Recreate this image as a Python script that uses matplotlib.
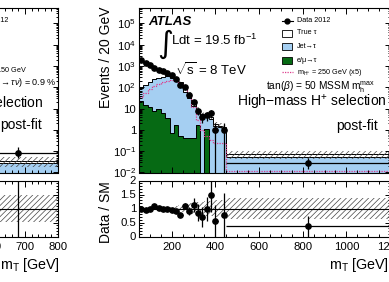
import numpy as np
import matplotlib
matplotlib.use("Agg")
import matplotlib.pyplot as plt
from matplotlib.lines import Line2D
from matplotlib.patches import Rectangle
from matplotlib.transforms import Affine2D
from matplotlib.ticker import MultipleLocator, LogLocator, NullFormatter, FuncFormatter

plt.rcParams['font.family'] = ['Liberation Sans', 'DejaVu Sans']
plt.rcParams['mathtext.fontset'] = 'custom'
plt.rcParams['mathtext.rm'] = 'Liberation Sans'
plt.rcParams['mathtext.it'] = 'Liberation Sans:italic'
plt.rcParams['mathtext.bf'] = 'Liberation Sans:bold'
plt.rcParams['mathtext.sf'] = 'Liberation Sans'
plt.rcParams['hatch.linewidth'] = 0.5

# ---------------- right panel: high-mass selection (events / 20 GeV) ----------------
bin_edges = [50, 70, 90, 110, 130, 150, 170, 190, 210, 230, 250, 270, 290,
             310, 330, 350, 370, 390, 410, 430, 450, 1200]
data_2012 = [1900, 1445, 1080, 830, 650, 560, 470, 372, 255, 135, 104, 44,
             20, 8, 4, 5, 6, 1, 0, 1, 0.0267]
wide_err_lo = 0.012
wide_err_hi = 0.022
wide_ratio_err_lo = 0.41
wide_ratio_err_hi = 0.36
e_mu_fake = [23, 14, 12.5, 7.4, 9.4, 6.1, 3.6, 0.73, 1.65, 0.51, 0.43, 0.43,
             0.43, 1.76, 0, 1.1, 0, 0, 0, 0, 0]
jet_fake = [65, 111, 167, 230, 266, 310, 336, 279, 218, 139, 60, 30,
            12.6, 5.7, 4.6, 3.2, 3.2, 1.5, 1.4, 1.1, 0.052]
true_tau = [1812, 1395, 910, 533, 355, 249, 135, 115, 60, 35, 35, 18,
            5, 2, 1, 0.8, 0.8, 0.3, 0.2, 0.2, 0.02]
signal_x5 = [35, 55, 80, 110, 145, 180, 205, 215, 200, 150, 90, 40,
             12, 3, 1.0, 0.5, 0.35, 0.25, 0.25, 0.25, 0.012]
sm_rel_unc = [0.03, 0.03, 0.03, 0.03, 0.03, 0.03, 0.03, 0.06, 0.10, 0.12,
              0.15, 0.18, 0.20, 0.22, 0.24, 0.26, 0.28, 0.30, 0.30, 0.30, 0.38]

# ---------------- left panel (partly visible) ----------------
left_edges = [560, 800]
left_data = [0.084]
left_err_lo = [0.035]
left_err_hi = [0.076]
left_jet = [0.029]
left_true = [0.006]
left_unc = [0.48]
left_ratio = [2.4]
left_ratio_err_lo = [2.5]
left_ratio_err_hi = [2.0]

C_BLUE = '#a5cff2'
C_GREEN = '#066a14'
C_SIG = '#dd3d8c'
C_HATCH = '#444444'

W, H = 389, 282
fig = plt.figure(figsize=(W / 100, H / 100), dpi=100)
T = Affine2D().scale(1.0 / W, -1.0 / H).translate(0, 1) + fig.transFigure


def add_axes_px(x0, x1, y0, y1):
    return fig.add_axes([x0 / W, 1 - y1 / H, (x1 - x0) / W, (y1 - y0) / H])


FLOOR = 1e-6


def draw_main(ax, edges, emu, jet, tt, unc, sig=None):
    edges = np.array(edges, float)
    emu = np.array(emu, float); jet = np.array(jet, float); tt = np.array(tt, float)
    c1 = emu; c2 = emu + jet; c3 = c2 + tt
    ax.stairs(c3, edges, baseline=FLOOR, fill=True, facecolor='white', edgecolor='none')
    ax.stairs(c2, edges, baseline=FLOOR, fill=True, facecolor=C_BLUE, edgecolor='none')
    ax.stairs(c1, edges, baseline=FLOOR, fill=True, facecolor=C_GREEN, edgecolor='none')
    for c in (c1, c2, c3):
        ax.stairs(c, edges, baseline=None, color='k', lw=0.7)
    u = np.array(unc, float)
    ax.stairs(c3 * (1 + u), edges, baseline=c3 * (1 - u), fill=True,
              facecolor='none', edgecolor=C_HATCH, hatch='//////', lw=0)
    if sig is not None:
        ax.stairs(np.array(sig, float), edges, baseline=None, color=C_SIG,
                  lw=0.9, ls=(0, (1, 1)))
    return c3


def style(ax, xmaj, xmin, ratio=False, hide_y=False, xlab_min=None):
    ax.xaxis.set_major_locator(MultipleLocator(xmaj))
    ax.xaxis.set_minor_locator(MultipleLocator(xmin))
    ax.tick_params(which='both', direction='in', top=True, right=True,
                   width=0.7, labelsize=8.2, pad=2)
    ax.tick_params(axis='x', which='major', length=4.6, pad=4)
    ax.tick_params(axis='x', which='minor', length=2.4)
    ax.tick_params(axis='y', which='major', length=3.6)
    ax.tick_params(axis='y', which='minor', length=1.8)
    for s in ax.spines.values():
        s.set_linewidth(0.8)
    if ratio:
        ax.set_ylim(0, 2)
        ax.yaxis.set_major_locator(MultipleLocator(0.5))
        ax.yaxis.set_minor_locator(MultipleLocator(0.1))
        ax.yaxis.set_major_formatter(FuncFormatter(lambda v, p: '%g' % v))
        if xlab_min is not None:
            ax.xaxis.set_major_formatter(
                FuncFormatter(lambda v, p: '%g' % v if v >= xlab_min else ''))
    else:
        ax.set_yscale('log')
        ax.set_ylim(1e-2, 5.3e5)
        ax.yaxis.set_major_locator(LogLocator(base=10, numticks=20))
        ax.yaxis.set_minor_locator(LogLocator(base=10, subs=np.arange(2, 10), numticks=50))
        ax.yaxis.set_minor_formatter(NullFormatter())

        def lf(v, p):
            e = int(round(np.log10(v)))
            if e == 0:
                return '1'
            if e == 1:
                return '10'
            return r'$10^{%d}$' % e
        ax.yaxis.set_major_formatter(FuncFormatter(lf))
        ax.tick_params(axis='x', labelbottom=False)
    if hide_y:
        ax.tick_params(axis='y', labelleft=False)


# ---------- left panel ----------
axL = add_axes_px(-193, 58, 8, 172.5)
axLr = add_axes_px(-193, 58, 180.5, 236.5)
ltot = draw_main(axL, left_edges, [0.0], left_jet, left_true, left_unc)
le = np.array(left_edges, float)
lc = 0.5 * (le[:-1] + le[1:])
lhw = 0.5 * np.diff(le)
axL.errorbar(lc, left_data, yerr=[left_err_lo, left_err_hi], xerr=lhw, fmt='o',
             color='k', ms=3.8, lw=0.9, capsize=0)
axL.set_xlim(40, 800)
style(axL, 100, 20, hide_y=True)
axLr.stairs(1 + np.array(left_unc), le, baseline=1 - np.array(left_unc), fill=True,
            facecolor='none', edgecolor=C_HATCH, hatch='//////', lw=0)
axLr.axhline(1, color='k', lw=0.8)
axLr.errorbar(lc, left_ratio, yerr=[left_ratio_err_lo, left_ratio_err_hi],
              xerr=lhw, fmt='o', color='k', ms=3.8, lw=0.9, capsize=0)
axLr.set_xlim(40, 800)
style(axLr, 100, 20, ratio=True, hide_y=True, xlab_min=600)

# ---------- right panel ----------
axR = add_axes_px(139, 390, 8, 172.5)
axRr = add_axes_px(139, 390, 180.5, 236.5)
edges = np.array(bin_edges, float)
cent = 0.5 * (edges[:-1] + edges[1:])
hw = 0.5 * np.diff(edges)
tot = draw_main(axR, bin_edges, e_mu_fake, jet_fake, true_tau, sm_rel_unc, signal_x5)
d = np.array(data_2012, float)
err_lo = np.sqrt(d)
err_hi = np.sqrt(d)
err_lo[-1] = wide_err_lo
err_hi[-1] = wide_err_hi
m = d > 0
axR.errorbar(cent[m], d[m], yerr=[np.minimum(err_lo[m], d[m] * 0.999), err_hi[m]],
             xerr=hw[m], fmt='o', color='k', ms=3.8, lw=0.9, capsize=0)
axR.set_xlim(50, 1200)
style(axR, 200, 50)

u = np.array(sm_rel_unc)
axRr.stairs(1 + u, edges, baseline=1 - u, fill=True, facecolor='none',
            edgecolor=C_HATCH, hatch='//////', lw=0)
axRr.axhline(1, color='k', lw=0.8)
r_lo = err_lo / tot
r_hi = err_hi / tot
r_lo[-1] = wide_ratio_err_lo
r_hi[-1] = wide_ratio_err_hi
axRr.errorbar(cent[m], d[m] / tot[m], yerr=[r_lo[m], r_hi[m]],
              xerr=hw[m], fmt='o', color='k', ms=3.8, lw=0.9, capsize=0)
axRr.set_xlim(50, 1200)
style(axRr, 200, 50, ratio=True)

# ---------- axis titles ----------
fig.text(106, 7, 'Events / 20 GeV', transform=T, rotation=90, ha='center', va='top', fontsize=10)
fig.text(106, 181, 'Data / SM', transform=T, rotation=90, ha='center', va='top', fontsize=10)
fig.text(389, 265, r'm$_{\mathrm{T}}$ [GeV]', transform=T, ha='right', va='center', fontsize=10.3)
fig.text(60, 265, r'm$_{\mathrm{T}}$ [GeV]', transform=T, ha='right', va='center', fontsize=10.3)

# ---------- right panel labels ----------
fig.text(148, 22, 'ATLAS', transform=T, ha='left', va='center', fontsize=9.5,
         fontweight='bold', fontstyle='italic')
fig.text(165, 44, '\u222b', transform=T, ha='center', va='center', fontsize=22,
         family='DejaVu Sans')
fig.text(171, 40, r'Ldt = 19.5 fb$^{-1}$', transform=T, ha='left', va='center', fontsize=9.5)
fig.text(175, 70, r'$\sqrt{\mathrm{s}}$ = 8 TeV', transform=T, ha='left', va='center', fontsize=9.5)

# legend (drawn by hand, ROOT style)
LX0, LX1, TX = 282, 293, 297
fig.add_artist(Line2D([LX0, LX1], [21, 21], transform=T, color='k', lw=0.8))
fig.add_artist(Line2D([(LX0 + LX1) / 2], [21], transform=T, color='k', marker='o', ms=3.5))
for yy, fc in ((33, 'white'), (46.5, C_BLUE), (60, C_GREEN)):
    fig.add_artist(Rectangle((LX0 + 0.5, yy - 3.5), 10, 7, transform=T, facecolor=fc,
                             edgecolor='k', lw=0.6))
fig.add_artist(Line2D([LX0, LX1], [72, 72], transform=T, color=C_SIG, lw=0.9, ls=(0, (1, 1))))
leg_txt = ['Data 2012', 'True \u03c4', 'Jet\u2192\u03c4', 'e/\u03bc\u2192\u03c4',
           r'm$_{\mathrm{H}^{+}}$ = 250 GeV (x5)']
for yy, s in zip((21, 33, 46.5, 60, 72), leg_txt):
    fig.text(TX, yy, s, transform=T, ha='left', va='center', fontsize=5.2)

fig.text(375, 87, r'tan($\beta$) = 50 MSSM m$_{\mathrm{h}}^{\mathrm{max}}$', transform=T,
         ha='right', va='center', fontsize=7.3)
fig.text(387, 103, 'High\u2212mass H$^{+}$ selection', transform=T, ha='right',
         va='center', fontsize=10)
fig.text(378, 126, 'post-fit', transform=T, ha='right', va='center', fontsize=10)

# ---------- left panel labels ----------
fig.text(8, 21, 'Data 2012', transform=T, ha='right', va='center', fontsize=5.2)
fig.text(27, 71, r'm$_{\mathrm{H}^{+}}$ = 150 GeV', transform=T, ha='right', va='center', fontsize=5.2)
fig.text(57, 83, r'B(t$\rightarrow$bH$^{+}$)$\times$B(H$^{+}\rightarrow\tau\nu$) = 0.9 %',
         transform=T, ha='right', va='center', fontsize=6.5)
fig.text(44, 103, 'Low\u2212mass H$^{+}$ selection', transform=T, ha='right', va='center', fontsize=10)
fig.text(42, 125, 'post-fit', transform=T, ha='right', va='center', fontsize=10)

fig.savefig('out.png', dpi=100)
